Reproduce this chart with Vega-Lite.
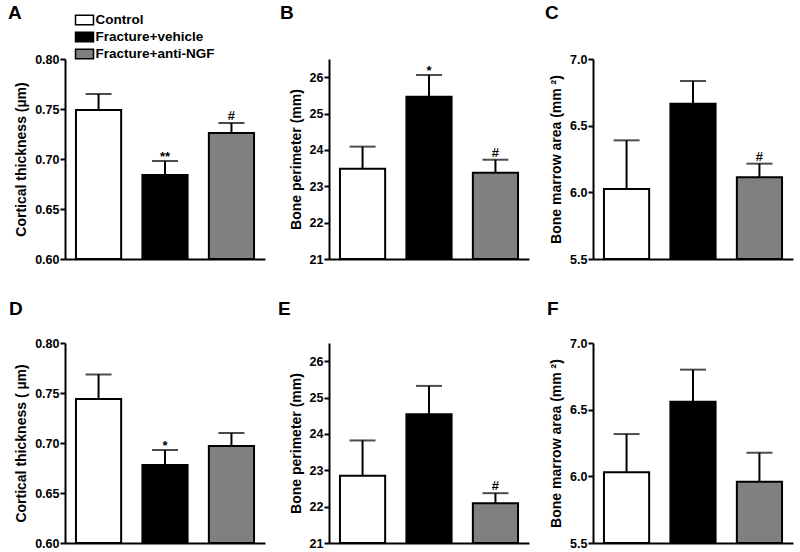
{
  "$schema": "https://vega.github.io/schema/vega-lite/v6.json",
  "background": "white",
  "padding": {"left": 8, "top": 4, "right": 5, "bottom": 0},
  "config": {
    "view": {"stroke": null},
    "font": "Liberation Sans",
    "axis": {"domainColor": "black", "domainWidth": 2, "tickColor": "black", "tickWidth": 2, "tickSize": 5, "labelFont": "Liberation Sans", "labelFontWeight": "bold", "labelFontSize": 12.5, "labelColor": "black", "labelPadding": 1, "titleFont": "Liberation Sans", "titleFontWeight": "bold", "titleFontSize": 14, "titleColor": "black", "titlePadding": 6, "grid": false},
    "title": {"font": "Liberation Sans", "fontSize": 19, "fontWeight": "bold", "color": "black", "anchor": "start", "frame": "group", "baseline": "alphabetic"}
  },
  "datasets": {
    "d": [
      {"panel": "A", "group": "Control", "value": 0.749, "upper": 0.765, "annot": null},
      {"panel": "A", "group": "Fracture+vehicle", "value": 0.684, "upper": 0.698, "annot": "**"},
      {"panel": "A", "group": "Fracture+anti-NGF", "value": 0.726, "upper": 0.736, "annot": "#"},
      {"panel": "B", "group": "Control", "value": 23.48, "upper": 24.09, "annot": null},
      {"panel": "B", "group": "Fracture+vehicle", "value": 25.46, "upper": 26.06, "annot": "*"},
      {"panel": "B", "group": "Fracture+anti-NGF", "value": 23.37, "upper": 23.73, "annot": "#"},
      {"panel": "C", "group": "Control", "value": 6.025, "upper": 6.39, "annot": null},
      {"panel": "C", "group": "Fracture+vehicle", "value": 6.665, "upper": 6.835, "annot": null},
      {"panel": "C", "group": "Fracture+anti-NGF", "value": 6.113, "upper": 6.215, "annot": "#"},
      {"panel": "D", "group": "Control", "value": 0.744, "upper": 0.7685, "annot": null},
      {"panel": "D", "group": "Fracture+vehicle", "value": 0.678, "upper": 0.693, "annot": "*"},
      {"panel": "D", "group": "Fracture+anti-NGF", "value": 0.697, "upper": 0.71, "annot": null},
      {"panel": "E", "group": "Control", "value": 22.85, "upper": 23.82, "annot": null},
      {"panel": "E", "group": "Fracture+vehicle", "value": 24.54, "upper": 25.32, "annot": null},
      {"panel": "E", "group": "Fracture+anti-NGF", "value": 22.09, "upper": 22.37, "annot": "#"},
      {"panel": "F", "group": "Control", "value": 6.03, "upper": 6.317, "annot": null},
      {"panel": "F", "group": "Fracture+vehicle", "value": 6.56, "upper": 6.8, "annot": null},
      {"panel": "F", "group": "Fracture+anti-NGF", "value": 5.96, "upper": 6.177, "annot": null}
    ]
  },
  "data": {"name": "d"},
  "bounds": "flush",
  "columns": 3,
  "spacing": {"row": 84, "column": 64},
  "resolve": {"scale": {"y": "independent"}},
  "concat": [
    {
      "width": 200, "height": 200,
      "title": {"text": "A", "dx": -57, "offset": 30},
      "transform": [{"filter": "datum.panel === 'A'"}],
      "encoding": {"x": {"field": "group", "type": "nominal", "sort": ["Control", "Fracture+vehicle", "Fracture+anti-NGF"], "scale": {"paddingInner": 0.32, "paddingOuter": 0.165}, "axis": {"labels": false, "ticks": false, "title": null}}},
      "layer": [
        {"mark": {"type": "bar", "stroke": "black", "strokeWidth": 2},
         "encoding": {
           "y": {"field": "value", "type": "quantitative", "scale": {"domain": [0.6, 0.8], "zero": false, "nice": false}, "axis": {"values": [0.6, 0.65, 0.7, 0.75, 0.8], "format": ".2f", "title": "Cortical thickness (µm)"}},
           "y2": {"datum": 0.6},
           "color": {"field": "group", "type": "nominal", "scale": {"domain": ["Control", "Fracture+vehicle", "Fracture+anti-NGF"], "range": ["white", "black", "#808080"]},
             "legend": {"orient": "none", "legendX": 11, "legendY": -47.5, "title": null, "symbolType": "M-1.16,-0.6H1.16V0.6H-1.16Z", "symbolSize": 240, "symbolStrokeColor": "black", "symbolStrokeWidth": 1.5, "labelFont": "Liberation Sans", "labelFontWeight": "bold", "labelFontSize": 13.5, "labelColor": "black", "labelOffset": 2.5, "rowPadding": -4, "padding": 0}}
         }},
        {"mark": {"type": "rule", "strokeWidth": 2, "color": "black"},
         "encoding": {"y": {"field": "value", "type": "quantitative", "scale": {"domain": [0.6, 0.8], "zero": false, "nice": false}, "axis": {"values": [0.6, 0.65, 0.7, 0.75, 0.8], "format": ".2f", "title": "Cortical thickness (µm)"}}, "y2": {"field": "upper"}}},
        {"mark": {"type": "tick", "thickness": 2, "size": 26, "color": "black"},
         "encoding": {"y": {"field": "upper", "type": "quantitative", "scale": {"domain": [0.6, 0.8], "zero": false, "nice": false}, "axis": {"values": [0.6, 0.65, 0.7, 0.75, 0.8], "format": ".2f", "title": "Cortical thickness (µm)"}}}},
        {"transform": [{"filter": "datum.annot === '#'"}],
         "mark": {"type": "text", "baseline": "alphabetic", "dy": -3, "fontSize": 13, "fontWeight": "bold", "font": "Liberation Sans", "color": "black"},
         "encoding": {"y": {"field": "upper", "type": "quantitative", "scale": {"domain": [0.6, 0.8], "zero": false, "nice": false}, "axis": {"values": [0.6, 0.65, 0.7, 0.75, 0.8], "format": ".2f", "title": "Cortical thickness (µm)"}}, "text": {"field": "annot"}}},
        {"transform": [{"filter": "isValid(datum.annot) && datum.annot !== '#'"}],
         "mark": {"type": "text", "baseline": "alphabetic", "dy": -0.5, "fontSize": 13, "fontWeight": "bold", "font": "Liberation Sans", "color": "black"},
         "encoding": {"y": {"field": "upper", "type": "quantitative", "scale": {"domain": [0.6, 0.8], "zero": false, "nice": false}, "axis": {"values": [0.6, 0.65, 0.7, 0.75, 0.8], "format": ".2f", "title": "Cortical thickness (µm)"}}, "text": {"field": "annot"}}}
      ]
    },
    {
      "width": 200, "height": 200,
      "title": {"text": "B", "dx": -49, "offset": 36},
      "transform": [{"filter": "datum.panel === 'B'"}],
      "encoding": {"x": {"field": "group", "type": "nominal", "sort": ["Control", "Fracture+vehicle", "Fracture+anti-NGF"], "scale": {"paddingInner": 0.32, "paddingOuter": 0.165}, "axis": {"labels": false, "ticks": false, "title": null}}},
      "layer": [
        {"mark": {"type": "bar", "stroke": "black", "strokeWidth": 2},
         "encoding": {
           "y": {"field": "value", "type": "quantitative", "scale": {"domain": [21, 26.5], "zero": false, "nice": false}, "axis": {"values": [21, 22, 23, 24, 25, 26], "format": "d", "title": "Bone perimeter (mm)"}},
           "y2": {"datum": 21},
           "color": {"field": "group", "type": "nominal", "scale": {"domain": ["Control", "Fracture+vehicle", "Fracture+anti-NGF"], "range": ["white", "black", "#808080"]}, "legend": null}
         }},
        {"mark": {"type": "rule", "strokeWidth": 2, "color": "black"},
         "encoding": {"y": {"field": "value", "type": "quantitative", "scale": {"domain": [21, 26.5], "zero": false, "nice": false}, "axis": {"values": [21, 22, 23, 24, 25, 26], "format": "d", "title": "Bone perimeter (mm)"}}, "y2": {"field": "upper"}}},
        {"mark": {"type": "tick", "thickness": 2, "size": 26, "color": "black"},
         "encoding": {"y": {"field": "upper", "type": "quantitative", "scale": {"domain": [21, 26.5], "zero": false, "nice": false}, "axis": {"values": [21, 22, 23, 24, 25, 26], "format": "d", "title": "Bone perimeter (mm)"}}}},
        {"transform": [{"filter": "datum.annot === '#'"}],
         "mark": {"type": "text", "baseline": "alphabetic", "dy": -3, "fontSize": 13, "fontWeight": "bold", "font": "Liberation Sans", "color": "black"},
         "encoding": {"y": {"field": "upper", "type": "quantitative", "scale": {"domain": [21, 26.5], "zero": false, "nice": false}, "axis": {"values": [21, 22, 23, 24, 25, 26], "format": "d", "title": "Bone perimeter (mm)"}}, "text": {"field": "annot"}}},
        {"transform": [{"filter": "isValid(datum.annot) && datum.annot !== '#'"}],
         "mark": {"type": "text", "baseline": "alphabetic", "dy": -0.5, "fontSize": 13, "fontWeight": "bold", "font": "Liberation Sans", "color": "black"},
         "encoding": {"y": {"field": "upper", "type": "quantitative", "scale": {"domain": [21, 26.5], "zero": false, "nice": false}, "axis": {"values": [21, 22, 23, 24, 25, 26], "format": "d", "title": "Bone perimeter (mm)"}}, "text": {"field": "annot"}}}
      ]
    },
    {
      "width": 200, "height": 200,
      "title": {"text": "C", "dx": -48, "offset": 30},
      "transform": [{"filter": "datum.panel === 'C'"}],
      "encoding": {"x": {"field": "group", "type": "nominal", "sort": ["Control", "Fracture+vehicle", "Fracture+anti-NGF"], "scale": {"paddingInner": 0.32, "paddingOuter": 0.165}, "axis": {"labels": false, "ticks": false, "title": null}}},
      "layer": [
        {"mark": {"type": "bar", "stroke": "black", "strokeWidth": 2},
         "encoding": {
           "y": {"field": "value", "type": "quantitative", "scale": {"domain": [5.5, 7.0], "zero": false, "nice": false}, "axis": {"values": [5.5, 6.0, 6.5, 7.0], "format": ".1f", "title": "Bone marrow area (mm ²)"}},
           "y2": {"datum": 5.5},
           "color": {"field": "group", "type": "nominal", "scale": {"domain": ["Control", "Fracture+vehicle", "Fracture+anti-NGF"], "range": ["white", "black", "#808080"]}, "legend": null}
         }},
        {"mark": {"type": "rule", "strokeWidth": 2, "color": "black"},
         "encoding": {"y": {"field": "value", "type": "quantitative", "scale": {"domain": [5.5, 7.0], "zero": false, "nice": false}, "axis": {"values": [5.5, 6.0, 6.5, 7.0], "format": ".1f", "title": "Bone marrow area (mm ²)"}}, "y2": {"field": "upper"}}},
        {"mark": {"type": "tick", "thickness": 2, "size": 26, "color": "black"},
         "encoding": {"y": {"field": "upper", "type": "quantitative", "scale": {"domain": [5.5, 7.0], "zero": false, "nice": false}, "axis": {"values": [5.5, 6.0, 6.5, 7.0], "format": ".1f", "title": "Bone marrow area (mm ²)"}}}},
        {"transform": [{"filter": "datum.annot === '#'"}],
         "mark": {"type": "text", "baseline": "alphabetic", "dy": -3, "fontSize": 13, "fontWeight": "bold", "font": "Liberation Sans", "color": "black"},
         "encoding": {"y": {"field": "upper", "type": "quantitative", "scale": {"domain": [5.5, 7.0], "zero": false, "nice": false}, "axis": {"values": [5.5, 6.0, 6.5, 7.0], "format": ".1f", "title": "Bone marrow area (mm ²)"}}, "text": {"field": "annot"}}}
      ]
    },
    {
      "width": 200, "height": 200,
      "title": {"text": "D", "dx": -56, "offset": 18},
      "transform": [{"filter": "datum.panel === 'D'"}],
      "encoding": {"x": {"field": "group", "type": "nominal", "sort": ["Control", "Fracture+vehicle", "Fracture+anti-NGF"], "scale": {"paddingInner": 0.32, "paddingOuter": 0.165}, "axis": {"labels": false, "ticks": false, "title": null}}},
      "layer": [
        {"mark": {"type": "bar", "stroke": "black", "strokeWidth": 2},
         "encoding": {
           "y": {"field": "value", "type": "quantitative", "scale": {"domain": [0.6, 0.8], "zero": false, "nice": false}, "axis": {"values": [0.6, 0.65, 0.7, 0.75, 0.8], "format": ".2f", "title": "Cortical thickness ( µm)"}},
           "y2": {"datum": 0.6},
           "color": {"field": "group", "type": "nominal", "scale": {"domain": ["Control", "Fracture+vehicle", "Fracture+anti-NGF"], "range": ["white", "black", "#808080"]}, "legend": null}
         }},
        {"mark": {"type": "rule", "strokeWidth": 2, "color": "black"},
         "encoding": {"y": {"field": "value", "type": "quantitative", "scale": {"domain": [0.6, 0.8], "zero": false, "nice": false}, "axis": {"values": [0.6, 0.65, 0.7, 0.75, 0.8], "format": ".2f", "title": "Cortical thickness ( µm)"}}, "y2": {"field": "upper"}}},
        {"mark": {"type": "tick", "thickness": 2, "size": 26, "color": "black"},
         "encoding": {"y": {"field": "upper", "type": "quantitative", "scale": {"domain": [0.6, 0.8], "zero": false, "nice": false}, "axis": {"values": [0.6, 0.65, 0.7, 0.75, 0.8], "format": ".2f", "title": "Cortical thickness ( µm)"}}}},
        {"transform": [{"filter": "isValid(datum.annot) && datum.annot !== '#'"}],
         "mark": {"type": "text", "baseline": "alphabetic", "dy": -0.5, "fontSize": 13, "fontWeight": "bold", "font": "Liberation Sans", "color": "black"},
         "encoding": {"y": {"field": "upper", "type": "quantitative", "scale": {"domain": [0.6, 0.8], "zero": false, "nice": false}, "axis": {"values": [0.6, 0.65, 0.7, 0.75, 0.8], "format": ".2f", "title": "Cortical thickness ( µm)"}}, "text": {"field": "annot"}}}
      ]
    },
    {
      "width": 200, "height": 200,
      "title": {"text": "E", "dx": -51, "offset": 24},
      "transform": [{"filter": "datum.panel === 'E'"}],
      "encoding": {"x": {"field": "group", "type": "nominal", "sort": ["Control", "Fracture+vehicle", "Fracture+anti-NGF"], "scale": {"paddingInner": 0.32, "paddingOuter": 0.165}, "axis": {"labels": false, "ticks": false, "title": null}}},
      "layer": [
        {"mark": {"type": "bar", "stroke": "black", "strokeWidth": 2},
         "encoding": {
           "y": {"field": "value", "type": "quantitative", "scale": {"domain": [21, 26.5], "zero": false, "nice": false}, "axis": {"values": [21, 22, 23, 24, 25, 26], "format": "d", "title": "Bone perimeter (mm)"}},
           "y2": {"datum": 21},
           "color": {"field": "group", "type": "nominal", "scale": {"domain": ["Control", "Fracture+vehicle", "Fracture+anti-NGF"], "range": ["white", "black", "#808080"]}, "legend": null}
         }},
        {"mark": {"type": "rule", "strokeWidth": 2, "color": "black"},
         "encoding": {"y": {"field": "value", "type": "quantitative", "scale": {"domain": [21, 26.5], "zero": false, "nice": false}, "axis": {"values": [21, 22, 23, 24, 25, 26], "format": "d", "title": "Bone perimeter (mm)"}}, "y2": {"field": "upper"}}},
        {"mark": {"type": "tick", "thickness": 2, "size": 26, "color": "black"},
         "encoding": {"y": {"field": "upper", "type": "quantitative", "scale": {"domain": [21, 26.5], "zero": false, "nice": false}, "axis": {"values": [21, 22, 23, 24, 25, 26], "format": "d", "title": "Bone perimeter (mm)"}}}},
        {"transform": [{"filter": "datum.annot === '#'"}],
         "mark": {"type": "text", "baseline": "alphabetic", "dy": -3, "fontSize": 13, "fontWeight": "bold", "font": "Liberation Sans", "color": "black"},
         "encoding": {"y": {"field": "upper", "type": "quantitative", "scale": {"domain": [21, 26.5], "zero": false, "nice": false}, "axis": {"values": [21, 22, 23, 24, 25, 26], "format": "d", "title": "Bone perimeter (mm)"}}, "text": {"field": "annot"}}}
      ]
    },
    {
      "width": 200, "height": 200,
      "title": {"text": "F", "dx": -46, "offset": 18},
      "transform": [{"filter": "datum.panel === 'F'"}],
      "encoding": {"x": {"field": "group", "type": "nominal", "sort": ["Control", "Fracture+vehicle", "Fracture+anti-NGF"], "scale": {"paddingInner": 0.32, "paddingOuter": 0.165}, "axis": {"labels": false, "ticks": false, "title": null}}},
      "layer": [
        {"mark": {"type": "bar", "stroke": "black", "strokeWidth": 2},
         "encoding": {
           "y": {"field": "value", "type": "quantitative", "scale": {"domain": [5.5, 7.0], "zero": false, "nice": false}, "axis": {"values": [5.5, 6.0, 6.5, 7.0], "format": ".1f", "title": "Bone marrow area (mm ²)"}},
           "y2": {"datum": 5.5},
           "color": {"field": "group", "type": "nominal", "scale": {"domain": ["Control", "Fracture+vehicle", "Fracture+anti-NGF"], "range": ["white", "black", "#808080"]}, "legend": null}
         }},
        {"mark": {"type": "rule", "strokeWidth": 2, "color": "black"},
         "encoding": {"y": {"field": "value", "type": "quantitative", "scale": {"domain": [5.5, 7.0], "zero": false, "nice": false}, "axis": {"values": [5.5, 6.0, 6.5, 7.0], "format": ".1f", "title": "Bone marrow area (mm ²)"}}, "y2": {"field": "upper"}}},
        {"mark": {"type": "tick", "thickness": 2, "size": 26, "color": "black"},
         "encoding": {"y": {"field": "upper", "type": "quantitative", "scale": {"domain": [5.5, 7.0], "zero": false, "nice": false}, "axis": {"values": [5.5, 6.0, 6.5, 7.0], "format": ".1f", "title": "Bone marrow area (mm ²)"}}}}
      ]
    }
  ]
}
